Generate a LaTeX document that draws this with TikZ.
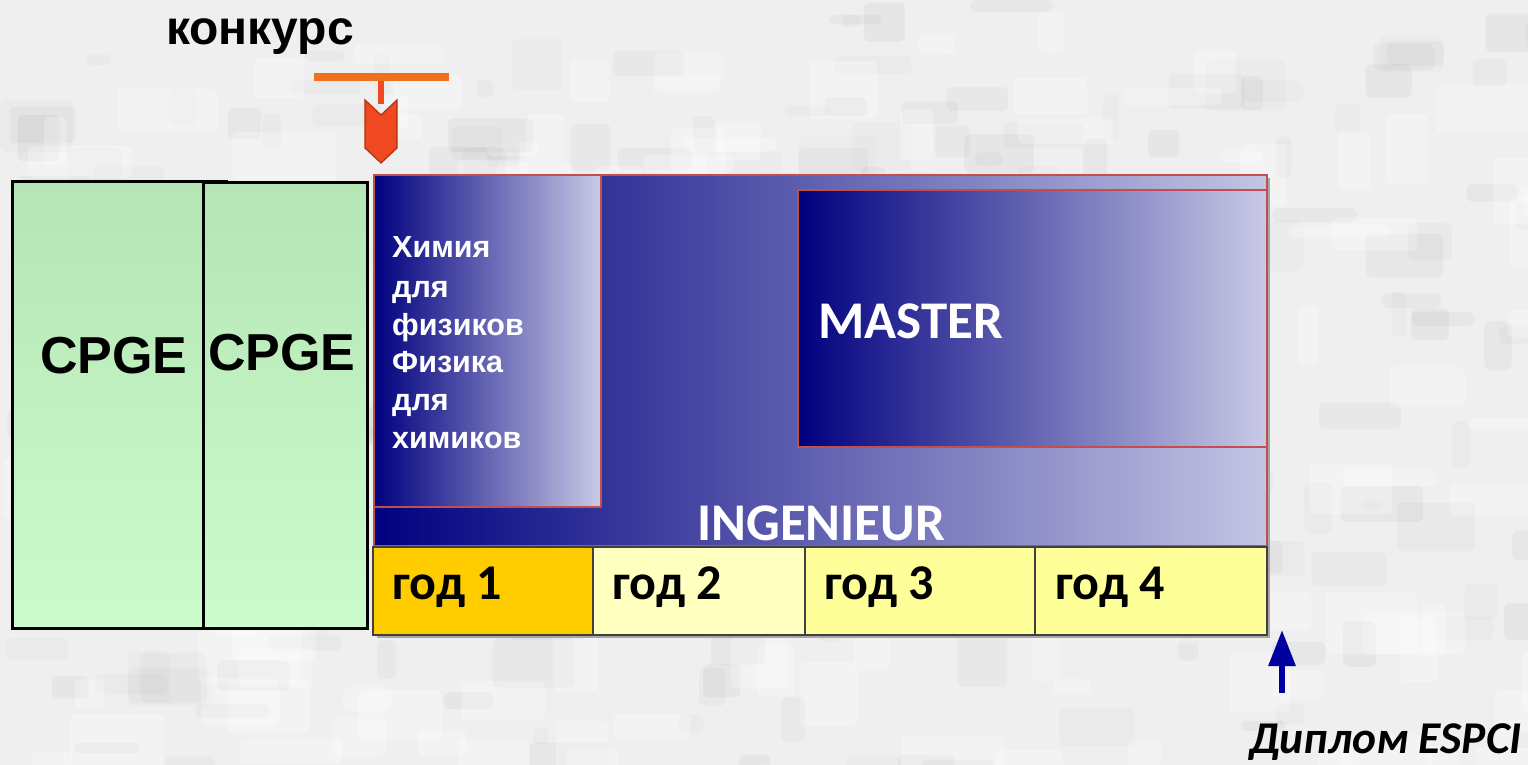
\documentclass[tikz,border=0pt]{standalone}
\usepackage{fontspec}
\setmainfont{Liberation Sans}
\newfontfamily\calib{Carlito}
\usetikzlibrary{arrows.meta}
\definecolor{bgc}{HTML}{EFEFEF}
\definecolor{navyc}{HTML}{00007F}
\definecolor{lavc}{HTML}{C4C4E4}
\definecolor{redb}{HTML}{C0504D}
\definecolor{cpgetop}{HTML}{B5E4B5}
\definecolor{cpgebot}{HTML}{CCFCCC}
\definecolor{yr1}{HTML}{FFCC00}
\definecolor{yr2}{HTML}{FFFFC0}
\definecolor{yr3}{HTML}{FFFF99}
\definecolor{yrline}{HTML}{404040}
\definecolor{orbar}{HTML}{F07020}
\definecolor{orarrow}{HTML}{F04820}
\definecolor{orline}{HTML}{B03010}
\definecolor{bluearr}{HTML}{0000A0}
\tikzset{
  cpgebox/.style={draw=black, line width=3pt, top color=cpgetop, bottom color=cpgebot, inner sep=0pt, outer sep=0pt, anchor=north west},
  bluebox/.style={draw=redb, line width=2.5pt, left color=navyc, right color=lavc, inner sep=0pt, outer sep=0pt, anchor=north west},
  yearbox/.style={draw=yrline, line width=1.5pt, inner sep=0pt, outer sep=0pt, anchor=north west, minimum height=88pt},
  cpgetxt/.style={anchor=base west, inner sep=0pt, font=\bfseries\fontsize{52}{60}\selectfont},
  yeartxt/.style={anchor=base west, inner sep=0pt, font=\calib\bfseries\fontsize{50}{56}\selectfont},
  whitetxt/.style={anchor=base west, inner sep=0pt, text=white, font=\calib\bfseries\fontsize{53}{60}\selectfont},
  chemtxt/.style={anchor=base west, inner sep=0pt, text=white, font=\bfseries\fontsize{30.5}{38}\selectfont}
}
\begin{document}
\begin{tikzpicture}[x=1pt,y=-1pt]
\fill[bgc] (0,0) rectangle (1528,765);
\useasboundingbox (0,0) rectangle (1528,765);
% subtle mottled background texture
\pgfmathsetseed{7}
\foreach \i in {1,...,220}{
  \pgfmathsetmacro{\bx}{rnd*1528}
  \pgfmathsetmacro{\by}{rnd*765}
  \pgfmathsetmacro{\bw}{15+rnd*70}
  \pgfmathsetmacro{\bh}{8+rnd*45}
  \pgfmathsetmacro{\bo}{0.012+rnd*0.025}
  \fill[black, opacity=\bo, rounded corners=6pt] (\bx,\by) rectangle ++(\bw,\bh);
}
\foreach \i in {1,...,160}{
  \pgfmathsetmacro{\bx}{rnd*1528}
  \pgfmathsetmacro{\by}{rnd*765}
  \pgfmathsetmacro{\bw}{20+rnd*90}
  \pgfmathsetmacro{\bh}{10+rnd*60}
  \fill[white, opacity=0.25, rounded corners=6pt] (\bx,\by) rectangle ++(\bw,\bh);
}

% CPGE boxes
\node[cpgebox, minimum width=214pt, minimum height=447pt] (cpge1) at (12,181) {};
\node[cpgebox, minimum width=164pt, minimum height=446pt] (cpge2) at (203,182) {};
\node[cpgetxt] (cpge1t) at (40,373) {CPGE};
\node[cpgetxt] (cpge2t) at (208,370) {CPGE};

% shadows
\fill[gray!70] (377,178) rectangle (1270,638);

% big INGENIEUR box
\node[bluebox, minimum width=893pt, minimum height=371pt] (ing) at (374,175) {};
\node[bluebox, minimum width=227pt, minimum height=332pt, right color=lavc!90!white] (chem) at (374,175) {};
\node[bluebox, minimum width=469pt, minimum height=257pt, right color=lavc!90!white] (master) at (798,190) {};
\node[whitetxt] (ingt) at (697,540) {INGENIEUR};
\node[whitetxt] (mastert) at (818,338) {MASTER};
\node[chemtxt] (chem1) at (392,257) {Химия};
\node[chemtxt] (chem2) at (392,297) {для};
\node[chemtxt] (chem3) at (392,335) {физиков};
\node[chemtxt] (chem4) at (392,372) {Физика};
\node[chemtxt] (chem5) at (392,410) {для};
\node[chemtxt] (chem6) at (392,448) {химиков};

% years
\node[yearbox, fill=yr1, minimum width=220pt] (y1) at (373,547) {};
\node[yearbox, fill=yr2, minimum width=212pt] (y2) at (593,547) {};
\node[yearbox, fill=yr3, minimum width=230pt] (y3) at (805,547) {};
\node[yearbox, fill=yr3, minimum width=232pt] (y4) at (1035,547) {};
\node[yeartxt] (y1t) at (392,599) {год 1};
\node[yeartxt] (y2t) at (612,599) {год 2};
\node[yeartxt] (y3t) at (824,599) {год 3};
\node[yeartxt] (y4t) at (1055,599) {год 4};

% konkurs
\node[anchor=base west, inner sep=0pt, font=\bfseries\fontsize{48}{54}\selectfont] (konk) at (166,45) {конкурс};
\coordinate (barL) at (314,77);
\coordinate (barR) at (449,77);
\draw[orbar, line width=8pt] (barL) -- (barR);
\coordinate (stemtop) at (381,81);
\coordinate (stembot) at (381,104);
\draw[orarrow, line width=6pt] (stemtop) -- (stembot);
\draw[orline, fill=orarrow, line width=1.2pt, line join=miter]
  (365,100) -- (381,115) -- (397,100) -- (397,148) -- (381,163) -- (365,148) -- cycle;

% diploma arrow
\coordinate (dipS) at (1282,693);
\coordinate (dipE) at (1282,630);
\draw[bluearr, line width=6pt, -{Triangle[width=26pt,length=36pt]}] (dipS) -- (dipE);
\node[anchor=base east, inner sep=0pt, font=\calib\bfseries\itshape\fontsize{45.5}{52}\selectfont] (dipt) at (1522,753) {Диплом ESPCI};
\end{tikzpicture}
\end{document}
